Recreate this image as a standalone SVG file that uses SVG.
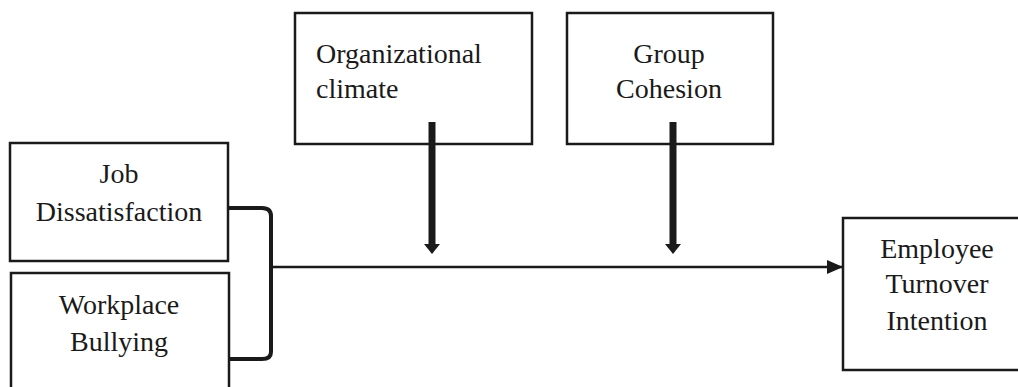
<svg xmlns="http://www.w3.org/2000/svg" width="1018" height="387" viewBox="0 0 1018 387">
<style>
.box{fill:#fff;stroke:#1a1a1a;stroke-width:2.5}
.t{font-family:"Liberation Serif","Times New Roman",serif;font-size:28px;fill:#1a1a1a}
.c{text-anchor:middle}
.ln{fill:none;stroke:#1a1a1a;stroke-width:2.5}
.br{fill:none;stroke:#1a1a1a;stroke-width:4}
.sh{stroke:#1a1a1a;stroke-width:7}
</style>
<defs>
<marker id="ah" markerUnits="userSpaceOnUse" markerWidth="16" markerHeight="14" refX="16" refY="7" orient="auto">
<path d="M0,0 L16,7 L0,14 Z" fill="#1a1a1a"/>
</marker>
</defs>
<rect width="1018" height="387" fill="#fff"/>
<g id="job">
<rect class="box" x="10" y="143" width="218" height="118"/>
<text class="t c" x="119" y="183">Job</text>
<text class="t c" x="119" y="221">Dissatisfaction</text>
</g>
<g id="bullying">
<rect class="box" x="11" y="273" width="218" height="130"/>
<text class="t c" x="119" y="314">Workplace</text>
<text class="t c" x="119" y="351">Bullying</text>
</g>
<g id="climate">
<rect class="box" x="295" y="13" width="237" height="131"/>
<text class="t" x="316" y="63">Organizational</text>
<text class="t" x="316" y="98">climate</text>
</g>
<g id="cohesion">
<rect class="box" x="567" y="13" width="206" height="131"/>
<text class="t c" x="669" y="63">Group</text>
<text class="t c" x="669" y="98">Cohesion</text>
</g>
<g id="turnover">
<rect class="box" x="843" y="218" width="190" height="152"/>
<text class="t c" x="937" y="258">Employee</text>
<text class="t c" x="937" y="293">Turnover</text>
<text class="t c" x="937" y="330">Intention</text>
</g>
<g id="connectors">
<path class="br" d="M228,208 L262,208 Q271,208 271,216 L271,352 Q271,359 262,359 L229,359"/>
<line class="ln" x1="271" y1="267" x2="843" y2="267" marker-end="url(#ah)"/>
<line class="sh" x1="432" y1="122" x2="432" y2="246"/>
<path d="M424,244 L440,244 L432,254 Z" fill="#1a1a1a"/>
<line class="sh" x1="673" y1="122" x2="673" y2="246"/>
<path d="M665,244 L681,244 L673,254 Z" fill="#1a1a1a"/>
</g>
</svg>
